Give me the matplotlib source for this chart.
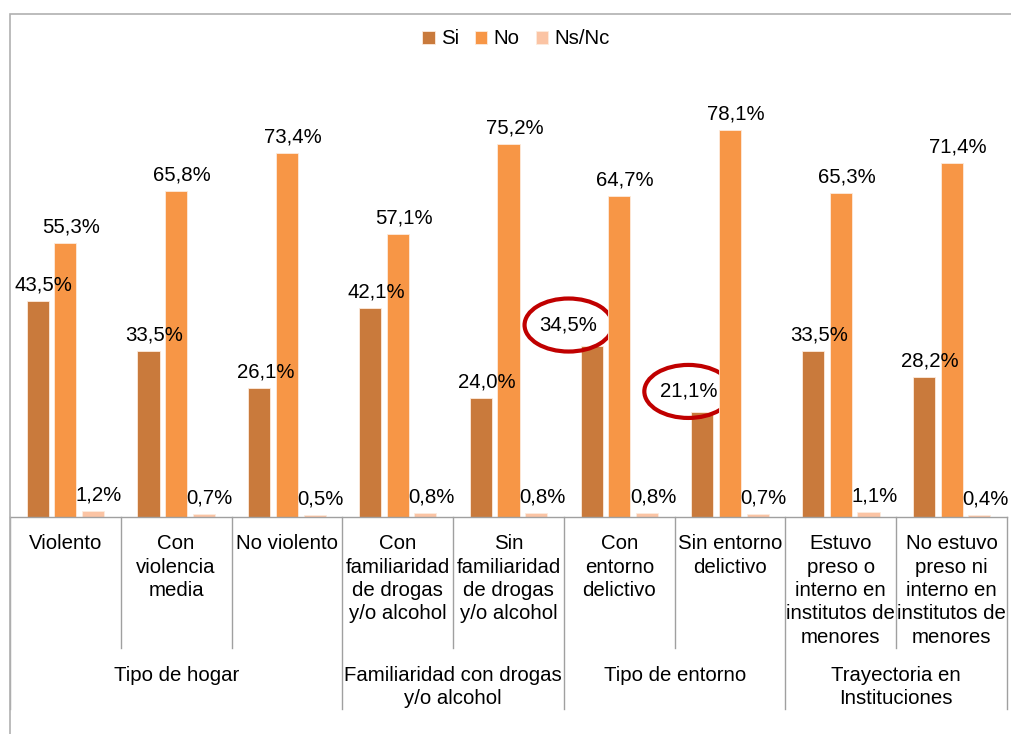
import matplotlib.pyplot as plt
import matplotlib.patches as patches
import numpy as np

plt.rcParams['font.family'] = ['Liberation Sans', 'DejaVu Sans']

categorias = ['Violento', 'Con\nviolencia\nmedia', 'No violento',
              'Con\nfamiliaridad\nde drogas\ny/o alcohol',
              'Sin\nfamiliaridad\nde drogas\ny/o alcohol',
              'Con\nentorno\ndelictivo', 'Sin entorno\ndelictivo',
              'Estuvo\npreso o\ninterno en\ninstitutos de\nmenores',
              'No estuvo\npreso ni\ninterno en\ninstitutos de\nmenores']
grupos = ['Tipo de hogar', 'Familiaridad con drogas\ny/o alcohol',
          'Tipo de entorno', 'Trayectoria en\nInstituciones']
grupo_limites = [0, 3, 5, 7, 9]

si = [43.5, 33.5, 26.1, 42.1, 24.0, 34.5, 21.1, 33.5, 28.2]
no = [55.3, 65.8, 73.4, 57.1, 75.2, 64.7, 78.1, 65.3, 71.4]
nsnc = [1.2, 0.7, 0.5, 0.8, 0.8, 0.8, 0.7, 1.1, 0.4]

series = [('Si', si, '#C97A3C'), ('No', no, '#F79646'), ('Ns/Nc', nsnc, '#FBC4A4')]
destacados = [5, 6]  # etiquetas de Si marcadas con elipse

fig = plt.figure(figsize=(10.11, 7.34), dpi=100)
ax = fig.add_axes([10/1011, 217/734, 997/1011, 446/734])

x = np.arange(len(categorias))
gris = '#A0A0A0'
for k, (nombre, vals, col) in enumerate(series):
    pos = x + (k - 1) * 0.25
    ax.bar(pos, vals, width=0.2, color=col, edgecolor='#FDEBDD', linewidth=0.6, label=nombre)
    for i, (p, v) in enumerate(zip(pos, vals)):
        txt = f'{v:.1f}%'.replace('.', ',')
        if k == 0 and i in destacados:
            dx = -23 if i == 5 else -14
            ax.annotate(txt, (p, v), xytext=(dx, 21), textcoords='offset pixels',
                        ha='center', va='center', fontsize=14.7, color='#000000')
            ell = patches.Ellipse((p + dx/110.8, v + 21/4.955), 0.795, 10.7,
                                  fill=False, edgecolor='#C00000', linewidth=3, clip_on=False)
            ax.add_patch(ell)
        else:
            ax.annotate(txt, (p, v), xytext=(6, 16), textcoords='offset pixels',
                        ha='center', va='center', fontsize=14.7, color='#000000')

ax.set_xlim(-0.5, len(categorias) - 0.5)
ax.set_ylim(0, 90)
ax.axis('off')

tr = ax.get_xaxis_transform()
ax.plot([-0.5, len(categorias) - 0.5], [0, 0], color=gris, lw=1, transform=tr, clip_on=False)
for b in range(len(categorias) + 1):
    bottom = -0.4305 if b in grupo_limites else -0.2937
    ax.plot([b - 0.5, b - 0.5], [0, bottom], color=gris, lw=1, transform=tr, clip_on=False)

for i, c in enumerate(categorias):
    ax.text(i, -0.039, c, transform=tr, ha='center', va='top', fontsize=14.7,
            linespacing=1.29, multialignment='center')

for g, nombre in enumerate(grupos):
    cx = (grupo_limites[g] + grupo_limites[g + 1]) / 2 - 0.5
    ax.text(cx, -0.333, nombre, transform=tr, ha='center', va='top', fontsize=14.7,
            linespacing=1.29, multialignment='center')

fig.legend(loc='center', bbox_to_anchor=(516/1011, 1 - 39/734), ncol=3, frameon=False,
           fontsize=14.7, handlelength=0.6, handleheight=0.6, handletextpad=0.3,
           columnspacing=0.8, borderaxespad=0)

fig.add_artist(patches.Rectangle((10/1011, -0.05), 1.1, 1.05 - 14/734, fill=False,
                                 edgecolor='#B0B0B0', linewidth=1.2, transform=fig.transFigure))

fig.savefig('out.png', dpi=100)
